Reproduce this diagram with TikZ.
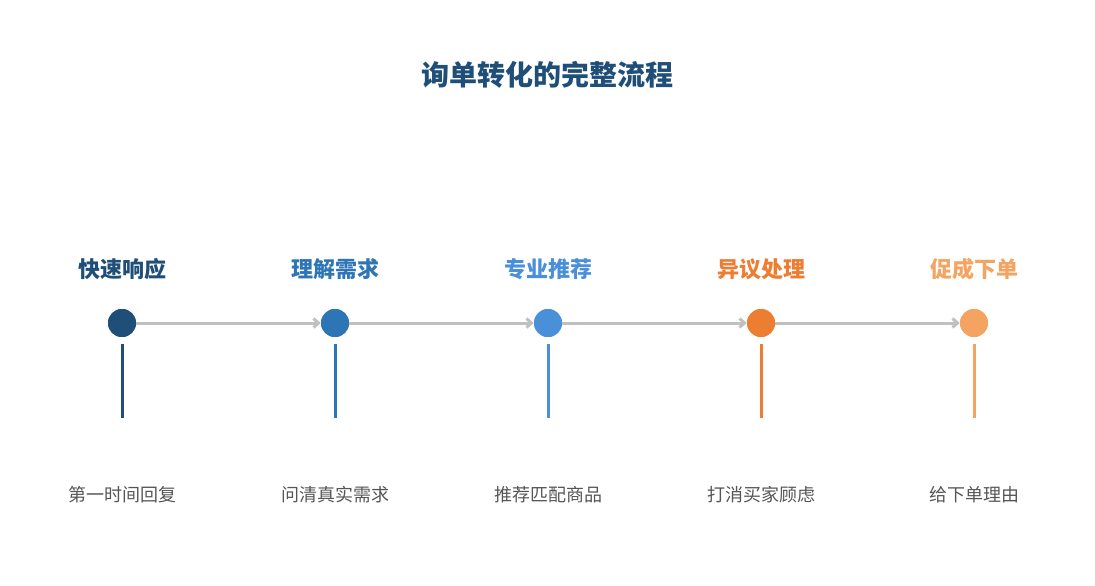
\documentclass[tikz,border=0pt]{standalone}
\usepackage{fontspec}
\setmainfont{Noto Sans CJK SC}
\usetikzlibrary{arrows.meta}
\definecolor{c1}{HTML}{1F4E79}
\definecolor{c2}{HTML}{2E75B6}
\definecolor{c3}{HTML}{4A90D9}
\definecolor{c4}{HTML}{ED7D31}
\definecolor{c5}{HTML}{F4A460}
\definecolor{ln}{HTML}{C0C0C0}
\definecolor{tx}{HTML}{555555}
\begin{document}
\begin{tikzpicture}[x=0.75pt,y=-0.75pt,
  dot/.style={circle,fill=#1,minimum size=21pt,inner sep=0},
  head/.style={text=#1,font=\fontsize{16.5pt}{18pt}\selectfont\bfseries},
  desc/.style={text=tx,font=\fontsize{13.5pt}{16pt}\selectfont},
  stem/.style={draw=#1,line width=2.25pt},
  conn/.style={draw=ln,line width=2.25pt,-{Straight Barb[length=3.75pt,width=6.75pt]}}]
\useasboundingbox (0,0) rectangle (1095,585);
\node[text=c1,font=\fontsize{21pt}{24pt}\selectfont\bfseries] (title) at (547,75) {询单转化的完整流程};
\foreach \i/\x/\c/\h/\d in {1/122/c1/快速响应/第一时间回复,2/335/c2/理解需求/问清真实需求,3/548/c3/专业推荐/推荐匹配商品,4/761/c4/异议处理/打消买家顾虑,5/974/c5/促成下单/给下单理由}{
  \node[head=\c] (h\i) at (\x,269) {\h};
  \node[dot=\c] (d\i) at (\x,323) {};
  \coordinate (s\i) at (\x,344);
  \coordinate (e\i) at (\x,418);
  \draw[stem=\c] (s\i) -- (e\i);
  \node[desc] (t\i) at (\x,495) {\d};
}
\foreach \a/\b in {1/2,2/3,3/4,4/5}{
  \draw[conn] (d\a.east) -- (d\b.west);
}
\foreach \i/\c in {1/c1,2/c2,3/c3,4/c4,5/c5}{\node[dot=\c] at (d\i) {};}
\end{tikzpicture}
\end{document}
